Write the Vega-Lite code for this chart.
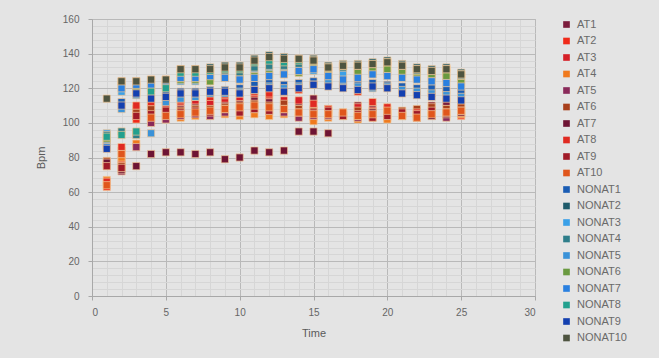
{
  "$schema": "https://vega.github.io/schema/vega-lite/v6.json",
  "width": 443,
  "height": 277,
  "autosize": {"type": "none"},
  "padding": {"left": 92, "top": 19, "right": 124, "bottom": 62},
  "background": "#e4e4e4",
  "config": {
    "font": "Liberation Sans",
    "view": {"stroke": "#b8b8b8", "strokeWidth": 1},
    "axis": {"labelColor": "#666666", "titleColor": "#5a5a5a", "labelFontSize": 10, "titleFontSize": 11, "titleFontWeight": "normal"}
  },
  "datasets": {
    "bpm": [
      {"s":"AT1","t":1,"v":76},{"s":"AT1","t":2,"v":78},{"s":"AT1","t":3,"v":104},{"s":"AT1","t":4,"v":106},{"s":"AT1","t":5,"v":108},{"s":"AT1","t":6,"v":108},{"s":"AT1","t":7,"v":109},{"s":"AT1","t":8,"v":110},{"s":"AT1","t":9,"v":112},{"s":"AT1","t":10,"v":112},{"s":"AT1","t":11,"v":113},{"s":"AT1","t":12,"v":112},{"s":"AT1","t":13,"v":110},{"s":"AT1","t":14,"v":112},{"s":"AT1","t":15,"v":114},{"s":"AT1","t":16,"v":108},{"s":"AT1","t":17,"v":105},{"s":"AT1","t":18,"v":110},{"s":"AT1","t":19,"v":108},{"s":"AT1","t":20,"v":106},{"s":"AT1","t":21,"v":105},{"s":"AT1","t":22,"v":107},{"s":"AT1","t":23,"v":110},{"s":"AT1","t":24,"v":112},{"s":"AT1","t":25,"v":111},
      {"s":"AT2","t":1,"v":63},{"s":"AT2","t":2,"v":76},{"s":"AT2","t":3,"v":102},{"s":"AT2","t":4,"v":103},{"s":"AT2","t":5,"v":104},{"s":"AT2","t":6,"v":105},{"s":"AT2","t":7,"v":106},{"s":"AT2","t":8,"v":105},{"s":"AT2","t":9,"v":107},{"s":"AT2","t":10,"v":108},{"s":"AT2","t":11,"v":109},{"s":"AT2","t":12,"v":108},{"s":"AT2","t":13,"v":106},{"s":"AT2","t":14,"v":104},{"s":"AT2","t":15,"v":103},{"s":"AT2","t":16,"v":106},{"s":"AT2","t":17,"v":104},{"s":"AT2","t":18,"v":103},{"s":"AT2","t":19,"v":104},{"s":"AT2","t":20,"v":103},{"s":"AT2","t":21,"v":104},{"s":"AT2","t":22,"v":103},{"s":"AT2","t":23,"v":104},{"s":"AT2","t":24,"v":105},{"s":"AT2","t":25,"v":104},
      {"s":"AT3","t":1,"v":77},{"s":"AT3","t":2,"v":84},{"s":"AT3","t":3,"v":108},{"s":"AT3","t":4,"v":110},{"s":"AT3","t":5,"v":110},{"s":"AT3","t":6,"v":112},{"s":"AT3","t":7,"v":113},{"s":"AT3","t":8,"v":112},{"s":"AT3","t":9,"v":114},{"s":"AT3","t":10,"v":115},{"s":"AT3","t":11,"v":117},{"s":"AT3","t":12,"v":116},{"s":"AT3","t":13,"v":113},{"s":"AT3","t":14,"v":113},{"s":"AT3","t":15,"v":108},{"s":"AT3","t":16,"v":107},{"s":"AT3","t":17,"v":104},{"s":"AT3","t":18,"v":109},{"s":"AT3","t":19,"v":107},{"s":"AT3","t":20,"v":108},{"s":"AT3","t":21,"v":105},{"s":"AT3","t":22,"v":104},{"s":"AT3","t":23,"v":106},{"s":"AT3","t":24,"v":105},{"s":"AT3","t":25,"v":105},
      {"s":"AT4","t":1,"v":67},{"s":"AT4","t":2,"v":80},{"s":"AT4","t":3,"v":88},{"s":"AT4","t":4,"v":101},{"s":"AT4","t":5,"v":102},{"s":"AT4","t":6,"v":103},{"s":"AT4","t":7,"v":104},{"s":"AT4","t":8,"v":104},{"s":"AT4","t":9,"v":105},{"s":"AT4","t":10,"v":104},{"s":"AT4","t":11,"v":105},{"s":"AT4","t":12,"v":104},{"s":"AT4","t":13,"v":105},{"s":"AT4","t":14,"v":104},{"s":"AT4","t":15,"v":101},{"s":"AT4","t":16,"v":103},{"s":"AT4","t":17,"v":104},{"s":"AT4","t":18,"v":102},{"s":"AT4","t":19,"v":103},{"s":"AT4","t":20,"v":102},{"s":"AT4","t":21,"v":104},{"s":"AT4","t":22,"v":105},{"s":"AT4","t":23,"v":106},{"s":"AT4","t":24,"v":104},{"s":"AT4","t":25,"v":105},
      {"s":"AT5","t":1,"v":75},{"s":"AT5","t":2,"v":72},{"s":"AT5","t":3,"v":86},{"s":"AT5","t":4,"v":100},{"s":"AT5","t":5,"v":102},{"s":"AT5","t":6,"v":104},{"s":"AT5","t":7,"v":105},{"s":"AT5","t":8,"v":104},{"s":"AT5","t":9,"v":106},{"s":"AT5","t":10,"v":107},{"s":"AT5","t":11,"v":108},{"s":"AT5","t":12,"v":107},{"s":"AT5","t":13,"v":106},{"s":"AT5","t":14,"v":103},{"s":"AT5","t":15,"v":104},{"s":"AT5","t":16,"v":104},{"s":"AT5","t":17,"v":105},{"s":"AT5","t":18,"v":103},{"s":"AT5","t":19,"v":105},{"s":"AT5","t":20,"v":104},{"s":"AT5","t":21,"v":106},{"s":"AT5","t":22,"v":105},{"s":"AT5","t":23,"v":104},{"s":"AT5","t":24,"v":103},{"s":"AT5","t":25,"v":106},
      {"s":"AT6","t":1,"v":78},{"s":"AT6","t":2,"v":75},{"s":"AT6","t":3,"v":106},{"s":"AT6","t":4,"v":108},{"s":"AT6","t":5,"v":106},{"s":"AT6","t":6,"v":107},{"s":"AT6","t":7,"v":108},{"s":"AT6","t":8,"v":108},{"s":"AT6","t":9,"v":109},{"s":"AT6","t":10,"v":110},{"s":"AT6","t":11,"v":111},{"s":"AT6","t":12,"v":110},{"s":"AT6","t":13,"v":111},{"s":"AT6","t":14,"v":108},{"s":"AT6","t":15,"v":107},{"s":"AT6","t":16,"v":105},{"s":"AT6","t":17,"v":106},{"s":"AT6","t":18,"v":107},{"s":"AT6","t":19,"v":106},{"s":"AT6","t":20,"v":105},{"s":"AT6","t":21,"v":107},{"s":"AT6","t":22,"v":108},{"s":"AT6","t":23,"v":109},{"s":"AT6","t":24,"v":108},{"s":"AT6","t":25,"v":109},
      {"s":"AT7","t":1,"v":77},{"s":"AT7","t":2,"v":73},{"s":"AT7","t":3,"v":75},{"s":"AT7","t":4,"v":82},{"s":"AT7","t":5,"v":83},{"s":"AT7","t":6,"v":83},{"s":"AT7","t":7,"v":82},{"s":"AT7","t":8,"v":83},{"s":"AT7","t":9,"v":79},{"s":"AT7","t":10,"v":80},{"s":"AT7","t":11,"v":84},{"s":"AT7","t":12,"v":83},{"s":"AT7","t":13,"v":84},{"s":"AT7","t":14,"v":95},{"s":"AT7","t":15,"v":95},{"s":"AT7","t":16,"v":94},{"s":"AT7","t":17,"v":105},{"s":"AT7","t":18,"v":104},{"s":"AT7","t":19,"v":106},{"s":"AT7","t":20,"v":105},{"s":"AT7","t":21,"v":104},{"s":"AT7","t":22,"v":103},{"s":"AT7","t":23,"v":104},{"s":"AT7","t":24,"v":105},{"s":"AT7","t":25,"v":106},
      {"s":"AT8","t":1,"v":66},{"s":"AT8","t":2,"v":86},{"s":"AT8","t":3,"v":110},{"s":"AT8","t":4,"v":112},{"s":"AT8","t":5,"v":112},{"s":"AT8","t":6,"v":113},{"s":"AT8","t":7,"v":115},{"s":"AT8","t":8,"v":115},{"s":"AT8","t":9,"v":116},{"s":"AT8","t":10,"v":117},{"s":"AT8","t":11,"v":118},{"s":"AT8","t":12,"v":117},{"s":"AT8","t":13,"v":118},{"s":"AT8","t":14,"v":119},{"s":"AT8","t":15,"v":111},{"s":"AT8","t":16,"v":108},{"s":"AT8","t":17,"v":105},{"s":"AT8","t":18,"v":118},{"s":"AT8","t":19,"v":112},{"s":"AT8","t":20,"v":109},{"s":"AT8","t":21,"v":105},{"s":"AT8","t":22,"v":106},{"s":"AT8","t":23,"v":117},{"s":"AT8","t":24,"v":118},{"s":"AT8","t":25,"v":118},
      {"s":"AT9","t":1,"v":75},{"s":"AT9","t":2,"v":74},{"s":"AT9","t":3,"v":104},{"s":"AT9","t":4,"v":105},{"s":"AT9","t":5,"v":107},{"s":"AT9","t":6,"v":106},{"s":"AT9","t":7,"v":107},{"s":"AT9","t":8,"v":106},{"s":"AT9","t":9,"v":108},{"s":"AT9","t":10,"v":106},{"s":"AT9","t":11,"v":108},{"s":"AT9","t":12,"v":107},{"s":"AT9","t":13,"v":108},{"s":"AT9","t":14,"v":106},{"s":"AT9","t":15,"v":106},{"s":"AT9","t":16,"v":107},{"s":"AT9","t":17,"v":104},{"s":"AT9","t":18,"v":105},{"s":"AT9","t":19,"v":103},{"s":"AT9","t":20,"v":104},{"s":"AT9","t":21,"v":106},{"s":"AT9","t":22,"v":105},{"s":"AT9","t":23,"v":107},{"s":"AT9","t":24,"v":106},{"s":"AT9","t":25,"v":107},
      {"s":"AT10","t":1,"v":64},{"s":"AT10","t":2,"v":82},{"s":"AT10","t":3,"v":94},{"s":"AT10","t":4,"v":103},{"s":"AT10","t":5,"v":104},{"s":"AT10","t":6,"v":105},{"s":"AT10","t":7,"v":106},{"s":"AT10","t":8,"v":107},{"s":"AT10","t":9,"v":108},{"s":"AT10","t":10,"v":109},{"s":"AT10","t":11,"v":110},{"s":"AT10","t":12,"v":109},{"s":"AT10","t":13,"v":108},{"s":"AT10","t":14,"v":106},{"s":"AT10","t":15,"v":105},{"s":"AT10","t":16,"v":105},{"s":"AT10","t":17,"v":106},{"s":"AT10","t":18,"v":104},{"s":"AT10","t":19,"v":105},{"s":"AT10","t":20,"v":107},{"s":"AT10","t":21,"v":104},{"s":"AT10","t":22,"v":103},{"s":"AT10","t":23,"v":105},{"s":"AT10","t":24,"v":106},{"s":"AT10","t":25,"v":107},
      {"s":"NONAT1","t":1,"v":88},{"s":"NONAT1","t":2,"v":112},{"s":"NONAT1","t":3,"v":118},{"s":"NONAT1","t":4,"v":115},{"s":"NONAT1","t":5,"v":116},{"s":"NONAT1","t":6,"v":118},{"s":"NONAT1","t":7,"v":118},{"s":"NONAT1","t":8,"v":119},{"s":"NONAT1","t":9,"v":119},{"s":"NONAT1","t":10,"v":120},{"s":"NONAT1","t":11,"v":122},{"s":"NONAT1","t":12,"v":123},{"s":"NONAT1","t":13,"v":122},{"s":"NONAT1","t":14,"v":123},{"s":"NONAT1","t":15,"v":124},{"s":"NONAT1","t":16,"v":124},{"s":"NONAT1","t":17,"v":122},{"s":"NONAT1","t":18,"v":124},{"s":"NONAT1","t":19,"v":123},{"s":"NONAT1","t":20,"v":122},{"s":"NONAT1","t":21,"v":121},{"s":"NONAT1","t":22,"v":120},{"s":"NONAT1","t":23,"v":120},{"s":"NONAT1","t":24,"v":119},{"s":"NONAT1","t":25,"v":118},
      {"s":"NONAT2","t":1,"v":90},{"s":"NONAT2","t":2,"v":124},{"s":"NONAT2","t":3,"v":124},{"s":"NONAT2","t":4,"v":125},{"s":"NONAT2","t":5,"v":125},{"s":"NONAT2","t":6,"v":131},{"s":"NONAT2","t":7,"v":131},{"s":"NONAT2","t":8,"v":132},{"s":"NONAT2","t":9,"v":133},{"s":"NONAT2","t":10,"v":133},{"s":"NONAT2","t":11,"v":137},{"s":"NONAT2","t":12,"v":139},{"s":"NONAT2","t":13,"v":138},{"s":"NONAT2","t":14,"v":137},{"s":"NONAT2","t":15,"v":137},{"s":"NONAT2","t":16,"v":133},{"s":"NONAT2","t":17,"v":134},{"s":"NONAT2","t":18,"v":134},{"s":"NONAT2","t":19,"v":135},{"s":"NONAT2","t":20,"v":136},{"s":"NONAT2","t":21,"v":134},{"s":"NONAT2","t":22,"v":132},{"s":"NONAT2","t":23,"v":131},{"s":"NONAT2","t":24,"v":132},{"s":"NONAT2","t":25,"v":129},
      {"s":"NONAT3","t":1,"v":94},{"s":"NONAT3","t":2,"v":118},{"s":"NONAT3","t":3,"v":120},{"s":"NONAT3","t":4,"v":120},{"s":"NONAT3","t":5,"v":121},{"s":"NONAT3","t":6,"v":124},{"s":"NONAT3","t":7,"v":124},{"s":"NONAT3","t":8,"v":126},{"s":"NONAT3","t":9,"v":127},{"s":"NONAT3","t":10,"v":126},{"s":"NONAT3","t":11,"v":128},{"s":"NONAT3","t":12,"v":130},{"s":"NONAT3","t":13,"v":130},{"s":"NONAT3","t":14,"v":129},{"s":"NONAT3","t":15,"v":130},{"s":"NONAT3","t":16,"v":129},{"s":"NONAT3","t":17,"v":128},{"s":"NONAT3","t":18,"v":127},{"s":"NONAT3","t":19,"v":128},{"s":"NONAT3","t":20,"v":129},{"s":"NONAT3","t":21,"v":128},{"s":"NONAT3","t":22,"v":127},{"s":"NONAT3","t":23,"v":126},{"s":"NONAT3","t":24,"v":126},{"s":"NONAT3","t":25,"v":125},
      {"s":"NONAT4","t":1,"v":93},{"s":"NONAT4","t":2,"v":95},{"s":"NONAT4","t":3,"v":93},{"s":"NONAT4","t":4,"v":124},{"s":"NONAT4","t":5,"v":124},{"s":"NONAT4","t":6,"v":127},{"s":"NONAT4","t":7,"v":127},{"s":"NONAT4","t":8,"v":128},{"s":"NONAT4","t":9,"v":129},{"s":"NONAT4","t":10,"v":128},{"s":"NONAT4","t":11,"v":132},{"s":"NONAT4","t":12,"v":133},{"s":"NONAT4","t":13,"v":133},{"s":"NONAT4","t":14,"v":134},{"s":"NONAT4","t":15,"v":134},{"s":"NONAT4","t":16,"v":131},{"s":"NONAT4","t":17,"v":132},{"s":"NONAT4","t":18,"v":131},{"s":"NONAT4","t":19,"v":132},{"s":"NONAT4","t":20,"v":133},{"s":"NONAT4","t":21,"v":131},{"s":"NONAT4","t":22,"v":130},{"s":"NONAT4","t":23,"v":129},{"s":"NONAT4","t":24,"v":129},{"s":"NONAT4","t":25,"v":127},
      {"s":"NONAT5","t":1,"v":87},{"s":"NONAT5","t":2,"v":108},{"s":"NONAT5","t":3,"v":116},{"s":"NONAT5","t":4,"v":94},{"s":"NONAT5","t":5,"v":112},{"s":"NONAT5","t":6,"v":114},{"s":"NONAT5","t":7,"v":115},{"s":"NONAT5","t":8,"v":117},{"s":"NONAT5","t":9,"v":117},{"s":"NONAT5","t":10,"v":118},{"s":"NONAT5","t":11,"v":119},{"s":"NONAT5","t":12,"v":121},{"s":"NONAT5","t":13,"v":120},{"s":"NONAT5","t":14,"v":121},{"s":"NONAT5","t":15,"v":122},{"s":"NONAT5","t":16,"v":123},{"s":"NONAT5","t":17,"v":122},{"s":"NONAT5","t":18,"v":121},{"s":"NONAT5","t":19,"v":120},{"s":"NONAT5","t":20,"v":121},{"s":"NONAT5","t":21,"v":119},{"s":"NONAT5","t":22,"v":118},{"s":"NONAT5","t":23,"v":117},{"s":"NONAT5","t":24,"v":116},{"s":"NONAT5","t":25,"v":115},
      {"s":"NONAT6","t":1,"v":91},{"s":"NONAT6","t":2,"v":122},{"s":"NONAT6","t":3,"v":121},{"s":"NONAT6","t":4,"v":120},{"s":"NONAT6","t":5,"v":122},{"s":"NONAT6","t":6,"v":125},{"s":"NONAT6","t":7,"v":125},{"s":"NONAT6","t":8,"v":124},{"s":"NONAT6","t":9,"v":126},{"s":"NONAT6","t":10,"v":125},{"s":"NONAT6","t":11,"v":127},{"s":"NONAT6","t":12,"v":128},{"s":"NONAT6","t":13,"v":128},{"s":"NONAT6","t":14,"v":129},{"s":"NONAT6","t":15,"v":133},{"s":"NONAT6","t":16,"v":128},{"s":"NONAT6","t":17,"v":133},{"s":"NONAT6","t":18,"v":129},{"s":"NONAT6","t":19,"v":130},{"s":"NONAT6","t":20,"v":131},{"s":"NONAT6","t":21,"v":129},{"s":"NONAT6","t":22,"v":126},{"s":"NONAT6","t":23,"v":128},{"s":"NONAT6","t":24,"v":127},{"s":"NONAT6","t":25,"v":123},
      {"s":"NONAT7","t":1,"v":86},{"s":"NONAT7","t":2,"v":120},{"s":"NONAT7","t":3,"v":122},{"s":"NONAT7","t":4,"v":122},{"s":"NONAT7","t":5,"v":123},{"s":"NONAT7","t":6,"v":126},{"s":"NONAT7","t":7,"v":126},{"s":"NONAT7","t":8,"v":127},{"s":"NONAT7","t":9,"v":126},{"s":"NONAT7","t":10,"v":125},{"s":"NONAT7","t":11,"v":126},{"s":"NONAT7","t":12,"v":127},{"s":"NONAT7","t":13,"v":128},{"s":"NONAT7","t":14,"v":130},{"s":"NONAT7","t":15,"v":131},{"s":"NONAT7","t":16,"v":127},{"s":"NONAT7","t":17,"v":125},{"s":"NONAT7","t":18,"v":126},{"s":"NONAT7","t":19,"v":128},{"s":"NONAT7","t":20,"v":127},{"s":"NONAT7","t":21,"v":126},{"s":"NONAT7","t":22,"v":125},{"s":"NONAT7","t":23,"v":124},{"s":"NONAT7","t":24,"v":123},{"s":"NONAT7","t":25,"v":121},
      {"s":"NONAT8","t":1,"v":92},{"s":"NONAT8","t":2,"v":93},{"s":"NONAT8","t":3,"v":95},{"s":"NONAT8","t":4,"v":118},{"s":"NONAT8","t":5,"v":120},{"s":"NONAT8","t":6,"v":129},{"s":"NONAT8","t":7,"v":129},{"s":"NONAT8","t":8,"v":130},{"s":"NONAT8","t":9,"v":131},{"s":"NONAT8","t":10,"v":131},{"s":"NONAT8","t":11,"v":135},{"s":"NONAT8","t":12,"v":136},{"s":"NONAT8","t":13,"v":135},{"s":"NONAT8","t":14,"v":136},{"s":"NONAT8","t":15,"v":136},{"s":"NONAT8","t":16,"v":132},{"s":"NONAT8","t":17,"v":133},{"s":"NONAT8","t":18,"v":133},{"s":"NONAT8","t":19,"v":134},{"s":"NONAT8","t":20,"v":135},{"s":"NONAT8","t":21,"v":133},{"s":"NONAT8","t":22,"v":131},{"s":"NONAT8","t":23,"v":130},{"s":"NONAT8","t":24,"v":131},{"s":"NONAT8","t":25,"v":128},
      {"s":"NONAT9","t":1,"v":85},{"s":"NONAT9","t":2,"v":110},{"s":"NONAT9","t":3,"v":117},{"s":"NONAT9","t":4,"v":114},{"s":"NONAT9","t":5,"v":115},{"s":"NONAT9","t":6,"v":117},{"s":"NONAT9","t":7,"v":117},{"s":"NONAT9","t":8,"v":118},{"s":"NONAT9","t":9,"v":118},{"s":"NONAT9","t":10,"v":117},{"s":"NONAT9","t":11,"v":119},{"s":"NONAT9","t":12,"v":120},{"s":"NONAT9","t":13,"v":118},{"s":"NONAT9","t":14,"v":120},{"s":"NONAT9","t":15,"v":122},{"s":"NONAT9","t":16,"v":121},{"s":"NONAT9","t":17,"v":120},{"s":"NONAT9","t":18,"v":119},{"s":"NONAT9","t":19,"v":121},{"s":"NONAT9","t":20,"v":120},{"s":"NONAT9","t":21,"v":117},{"s":"NONAT9","t":22,"v":116},{"s":"NONAT9","t":23,"v":115},{"s":"NONAT9","t":24,"v":114},{"s":"NONAT9","t":25,"v":113},
      {"s":"NONAT10","t":1,"v":114},{"s":"NONAT10","t":2,"v":124},{"s":"NONAT10","t":3,"v":124},{"s":"NONAT10","t":4,"v":125},{"s":"NONAT10","t":5,"v":125},{"s":"NONAT10","t":6,"v":131},{"s":"NONAT10","t":7,"v":131},{"s":"NONAT10","t":8,"v":131},{"s":"NONAT10","t":9,"v":132},{"s":"NONAT10","t":10,"v":132},{"s":"NONAT10","t":11,"v":136},{"s":"NONAT10","t":12,"v":138},{"s":"NONAT10","t":13,"v":137},{"s":"NONAT10","t":14,"v":137},{"s":"NONAT10","t":15,"v":136},{"s":"NONAT10","t":16,"v":132},{"s":"NONAT10","t":17,"v":133},{"s":"NONAT10","t":18,"v":133},{"s":"NONAT10","t":19,"v":134},{"s":"NONAT10","t":20,"v":135},{"s":"NONAT10","t":21,"v":133},{"s":"NONAT10","t":22,"v":131},{"s":"NONAT10","t":23,"v":130},{"s":"NONAT10","t":24,"v":131},{"s":"NONAT10","t":25,"v":128}
    ]
  },
  "data": {"name": "bpm"},
  "resolve": {"axis": {"x": "independent", "y": "independent"}},
  "layer": [
    {
      "description": "Invisible layer that only carries the minor gridlines",
      "mark": {"type": "point", "opacity": 0},
      "encoding": {
        "x": {"field": "t", "type": "quantitative", "scale": {"domain": [0, 30], "nice": false},
          "axis": {"orient": "bottom", "values": [1,2,3,4,6,7,8,9,11,12,13,14,16,17,18,19,21,22,23,24,26,27,28,29], "grid": true, "gridColor": "#d6d6d6", "labels": false, "ticks": false, "domain": false, "title": null}},
        "y": {"field": "v", "type": "quantitative", "scale": {"domain": [0, 160], "nice": false},
          "axis": {"orient": "left", "values": [4,8,12,16,24,28,32,36,44,48,52,56,64,68,72,76,84,88,92,96,104,108,112,116,124,128,132,136,144,148,152,156], "grid": true, "gridColor": "#d6d6d6", "labels": false, "ticks": false, "domain": false, "title": null}}
      }
    },
    {
      "mark": {"type": "point", "shape": "square", "filled": true, "size": 52, "opacity": 1, "stroke": "#f2c79a", "strokeWidth": 0.7},
      "encoding": {
        "x": {"field": "t", "type": "quantitative", "scale": {"domain": [0, 30], "nice": false},
          "axis": {"orient": "bottom", "values": [0,5,10,15,20,25,30], "grid": true, "gridColor": "#b9b9b9", "domainColor": "#a8a8a8", "tickColor": "#a8a8a8", "tickSize": 4, "labelPadding": 7, "title": "Time", "titlePadding": 10}},
        "y": {"field": "v", "type": "quantitative", "scale": {"domain": [0, 160], "nice": false},
          "axis": {"orient": "left", "values": [0,20,40,60,80,100,120,140,160], "grid": true, "gridColor": "#b9b9b9", "domainColor": "#a8a8a8", "tickColor": "#a8a8a8", "tickSize": 4, "labelPadding": 9, "title": "Bpm", "titlePadding": 16}},
        "color": {
          "field": "s", "type": "nominal",
          "scale": {
            "domain": ["AT1","AT2","AT3","AT4","AT5","AT6","AT7","AT8","AT9","AT10","NONAT1","NONAT2","NONAT3","NONAT4","NONAT5","NONAT6","NONAT7","NONAT8","NONAT9","NONAT10"],
            "range": ["#7b1c3c","#f02a1a","#d62028","#f07a1e","#8a2a5a","#a8401c","#6e1434","#e02a22","#a01a28","#e0561c","#1a5cb4","#1e5a6a","#3aa0e8","#2e7e8a","#3a92d8","#6a9a40","#2a80e0","#22a08e","#1440b0","#4e5440"]
          },
          "legend": {"title": null, "orient": "none", "legendX": 469, "legendY": 0, "padding": 0, "symbolType": "square", "symbolSize": 44, "symbolStrokeWidth": 0, "labelFontSize": 11, "labelColor": "#6a6a6a", "labelOffset": 5, "rowPadding": 4.5}
        }
      }
    }
  ]
}
